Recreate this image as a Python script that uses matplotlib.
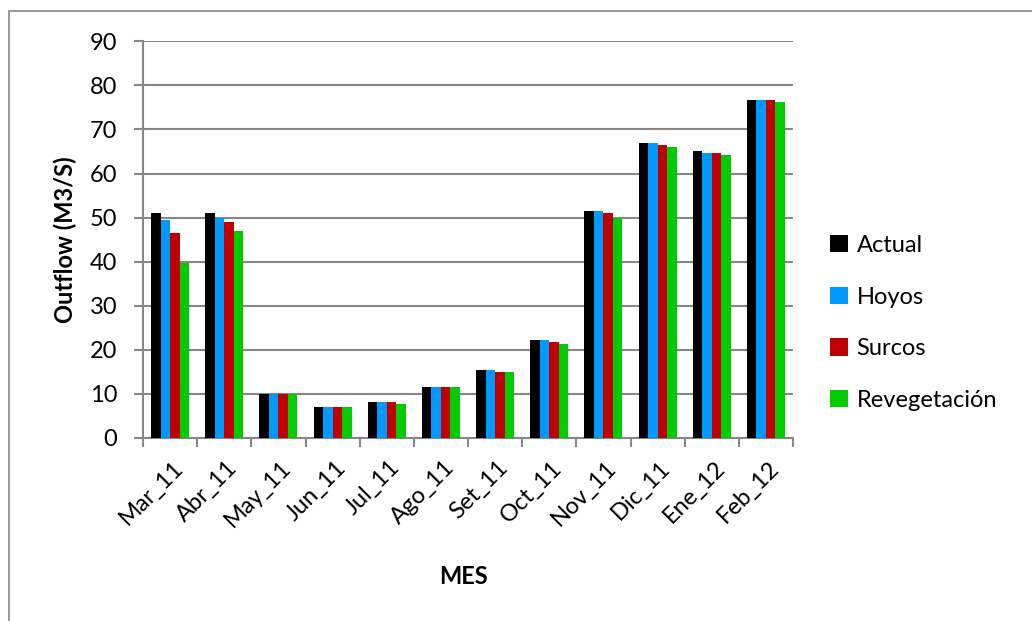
import matplotlib
matplotlib.use("Agg")
import matplotlib.pyplot as plt
import matplotlib.transforms as mtransforms
import numpy as np
from matplotlib.patches import Rectangle

plt.rcParams["font.family"] = ["Lato", "DejaVu Sans"]

meses = ["Mar_11", "Abr_11", "May_11", "Jun_11", "Jul_11", "Ago_11",
         "Set_11", "Oct_11", "Nov_11", "Dic_11", "Ene_12", "Feb_12"]
actual = [51.0, 51.0, 10.0, 7.1, 8.1, 11.5, 15.5, 22.2, 51.5, 67.0, 65.1, 76.7]
hoyos = [49.5, 50.0, 10.0, 7.1, 8.1, 11.5, 15.5, 22.2, 51.5, 67.0, 64.6, 76.7]
surcos = [46.6, 49.0, 10.0, 7.1, 8.1, 11.5, 15.0, 21.7, 51.0, 66.5, 64.6, 76.7]
reveg = [39.7, 47.0, 10.0, 7.1, 7.6, 11.5, 15.0, 21.3, 50.0, 66.1, 64.1, 76.3]

series = [("Actual", actual, "#000000"),
          ("Hoyos", hoyos, "#0099FF"),
          ("Surcos", surcos, "#C00000"),
          ("Revegetación", reveg, "#00CC00")]

FS = 17

fig = plt.figure(figsize=(10.32, 6.21), dpi=100)
ax = fig.add_axes([0.1386, 0.2947, 0.6298, 0.6388])

# outer chart border
fig.patches.append(Rectangle((9 / 1032, -0.05), 1.2, 1 - 11 / 621 + 0.05,
                             transform=fig.transFigure, fill=False,
                             edgecolor="#868686", linewidth=1.2))

x = np.arange(len(meses))
w = 0.175
for i, (name, vals, col) in enumerate(series):
    ax.bar(x + (i - 1.5) * w, vals, width=w, color=col, label=name,
           zorder=3, linewidth=0)

ax.set_xlim(-0.5, len(meses) - 0.5)
ax.set_ylim(0, 90)
ax.set_yticks(np.arange(0, 91, 10))
ax.yaxis.grid(True, color="#868686", linewidth=1.5)
ax.set_axisbelow(True)

ax.set_xticks(np.arange(-0.5, len(meses), 1.0), minor=False)
ax.set_xticklabels([])
ax.set_xticks(x, minor=True)
ax.set_xticklabels(meses, minor=True, rotation=45, ha="right", va="center",
                   rotation_mode="anchor", fontsize=FS)
ax.tick_params(axis="x", which="minor", length=0, pad=19)
ax.tick_params(axis="x", which="major", length=6.5, width=1.5,
               color="#868686", direction="out")
ax.tick_params(axis="y", length=6.5, width=1.5, color="#868686",
               labelsize=FS, pad=12)

# nudge month labels right a little
shift = mtransforms.ScaledTranslation(7 / 72, 0, fig.dpi_scale_trans)
for lbl in ax.get_xticklabels(minor=True):
    lbl.set_transform(lbl.get_transform() + shift)

for s in ["top", "right"]:
    ax.spines[s].set_visible(False)
for s in ["left", "bottom"]:
    ax.spines[s].set_color("#868686")
    ax.spines[s].set_linewidth(1.5)

ax.set_ylabel("Outflow (M3/S)", fontsize=FS, fontweight="bold")
ax.yaxis.set_label_coords(-0.102, 0.5)
fig.text(0.449, 0.071, "MES", fontsize=FS, fontweight="bold",
         ha="center", va="center")

ax.legend(loc="center left", bbox_to_anchor=(1.025, 0.29), frameon=False,
          fontsize=FS, handlelength=0.76, handleheight=0.76,
          handletextpad=0.35, labelspacing=1.3)

fig.savefig("out.png", dpi=100)
